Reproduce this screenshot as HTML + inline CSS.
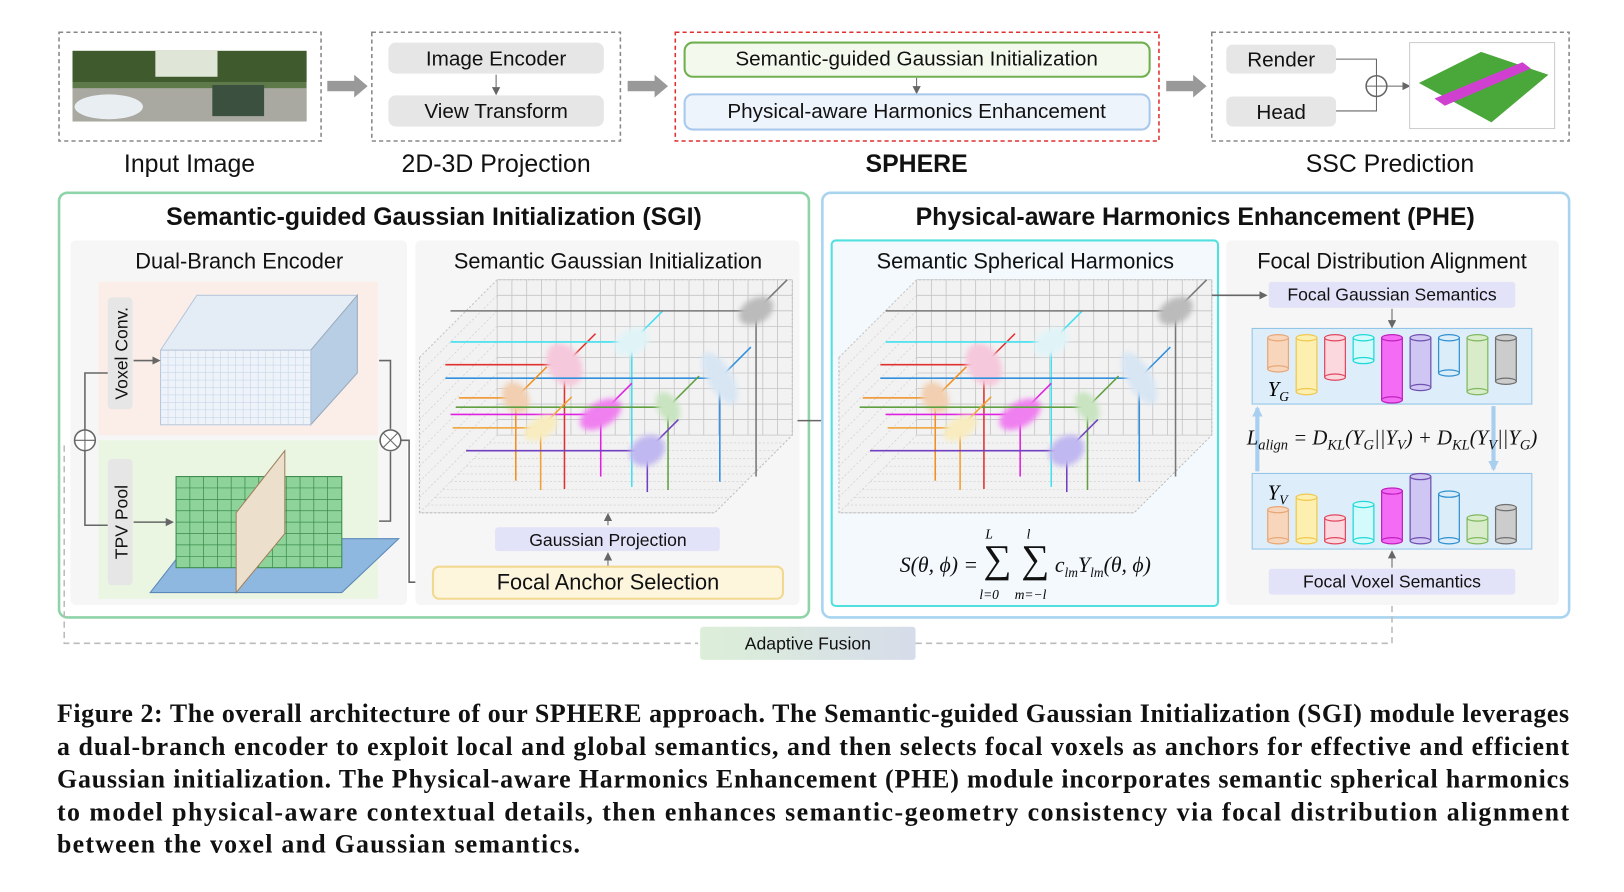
<!DOCTYPE html>
<html><head><meta charset="utf-8"><style>
html,body{margin:0;padding:0;background:#fff;width:1624px;height:892px;overflow:hidden}
svg{display:block}
.s{font-family:"Liberation Sans",sans-serif;fill:#111}
.cap{font-family:"Liberation Serif",serif;font-weight:bold;font-size:25px;fill:#111}
</style></head><body>
<svg id="fig" width="1624" height="892" viewBox="0 0 1568 861" xmlns="http://www.w3.org/2000/svg">
<defs>
<filter id="blur" x="-50%" y="-50%" width="200%" height="200%"><feGaussianBlur stdDeviation="2.5"/></filter>
<marker id="ah" markerUnits="userSpaceOnUse" markerWidth="8" markerHeight="8" refX="6" refY="4" orient="auto"><path d="M0,0 L8,4 L0,8 z" fill="#666"/></marker>
<marker id="ahb" markerUnits="userSpaceOnUse" markerWidth="12" markerHeight="10" refX="8" refY="5" orient="auto"><path d="M0,0 L10,5 L0,10 z" fill="#a8cef0"/></marker>
<linearGradient id="af" x1="0" x2="1"><stop offset="0" stop-color="#dcefd8"/><stop offset="1" stop-color="#d6dcea"/></linearGradient>
</defs>

<!-- TOP ROW -->
<g>
<rect x="57" y="31" width="253" height="105" fill="#fff" stroke="#888" stroke-dasharray="4,3" stroke-width="1.5"/>
<rect x="70" y="49" width="226" height="68" fill="#5f7a4a"/>
<rect x="70" y="49" width="226" height="30" fill="#3f5a2c"/>
<rect x="150" y="49" width="60" height="25" fill="#dfe6d8"/>
<rect x="70" y="85" width="226" height="32" fill="#a9a9a2"/>
<ellipse cx="105" cy="103" rx="33" ry="12" fill="#e8eef2"/>
<rect x="205" y="82" width="50" height="30" fill="#3c5040"/>
<text class="s" x="183" y="166" font-size="24" text-anchor="middle">Input Image</text>
</g>
<polygon points="316,78 342,78 342,72 355,83 342,94 342,88 316,88" fill="#999"/>
<g>
<rect x="359" y="31" width="240" height="105" fill="#fff" stroke="#888" stroke-dasharray="4,3" stroke-width="1.5"/>
<rect x="375" y="41" width="208" height="30" rx="7" fill="#e6e6e6"/>
<text class="s" x="479" y="63" font-size="20" text-anchor="middle">Image Encoder</text>
<line x1="479" y1="72" x2="479" y2="90" stroke="#666" marker-end="url(#ah)"/>
<rect x="375" y="92" width="208" height="30" rx="7" fill="#e6e6e6"/>
<text class="s" x="479" y="114" font-size="20" text-anchor="middle">View Transform</text>
<text class="s" x="479" y="166" font-size="24" text-anchor="middle">2D-3D Projection</text>
</g>
<polygon points="606,78 632,78 632,72 645,83 632,94 632,88 606,88" fill="#999"/>
<g>
<rect x="652" y="31" width="467" height="105" fill="#fff" stroke="#e03030" stroke-dasharray="4,3" stroke-width="1.5"/>
<rect x="661" y="41" width="449" height="33" rx="8" fill="#f4f9ee" stroke="#70b050" stroke-width="2"/>
<text class="s" x="885" y="63" font-size="20" text-anchor="middle">Semantic-guided Gaussian Initialization</text>
<line x1="885" y1="75" x2="885" y2="89" stroke="#666" marker-end="url(#ah)"/>
<rect x="661" y="91" width="449" height="34" rx="8" fill="#eef4fc" stroke="#a8c8ec" stroke-width="2"/>
<text class="s" x="885" y="114" font-size="20" text-anchor="middle">Physical-aware Harmonics Enhancement</text>
<text class="s" x="885" y="166" font-size="24" font-weight="bold" text-anchor="middle">SPHERE</text>
</g>
<polygon points="1126,78 1152,78 1152,72 1165,83 1152,94 1152,88 1126,88" fill="#999"/>
<g>
<rect x="1170" y="31" width="345" height="105" fill="#fff" stroke="#888" stroke-dasharray="4,3" stroke-width="1.5"/>
<rect x="1184" y="43" width="106" height="28" rx="6" fill="#e6e6e6"/>
<text class="s" x="1237" y="64" font-size="20" text-anchor="middle">Render</text>
<rect x="1184" y="93" width="106" height="29" rx="6" fill="#e6e6e6"/>
<text class="s" x="1237" y="115" font-size="20" text-anchor="middle">Head</text>
<path d="M1290,57 H1329 V73 M1290,107 H1329 V93" fill="none" stroke="#666"/>
<circle cx="1329" cy="83" r="10" fill="#fff" stroke="#666" stroke-width="1.5"/>
<path d="M1319,83 H1339 M1329,73 V93" stroke="#666"/>
<line x1="1339" y1="83" x2="1360" y2="83" stroke="#666" marker-end="url(#ah)"/>
<rect x="1361" y="41" width="140" height="83" fill="#fff" stroke="#ccc"/>
<polygon points="1370,80 1430,50 1495,72 1440,118" fill="#4aa83a"/>
<polygon points="1385,95 1470,60 1478,66 1395,102" fill="#d040d0"/>
<text class="s" x="1342" y="166" font-size="24" text-anchor="middle">SSC Prediction</text>
</g>

<!-- SGI -->
<g>
<rect x="57" y="186" width="724" height="410" rx="8" fill="#fff" stroke="#8fd4a8" stroke-width="2.5"/>
<text class="s" x="419" y="217" font-size="24" font-weight="bold" text-anchor="middle">Semantic-guided Gaussian Initialization (SGI)</text>
<rect x="68" y="232" width="325" height="352" rx="5" fill="#f6f6f6"/>
<text class="s" x="231" y="259" font-size="21" text-anchor="middle">Dual-Branch Encoder</text>
<rect x="95" y="272" width="270" height="148" fill="#fbeee8"/>
<rect x="95" y="425" width="270" height="153" fill="#eaf6e2"/>
<rect x="104" y="287" width="24" height="108" rx="4" fill="#e6e6e6"/>
<text class="s" transform="translate(123,341) rotate(-90)" font-size="17" text-anchor="middle">Voxel Conv.</text>
<rect x="104" y="443" width="24" height="122" rx="4" fill="#e6e6e6"/>
<text class="s" transform="translate(123,504) rotate(-90)" font-size="17" text-anchor="middle">TPV Pool</text>
<g id="cube"></g>
<g id="tpv"></g>
<path d="M104,360 H82 V415 M104,507 H82 V435" fill="none" stroke="#666" stroke-width="1.5"/>
<circle cx="82" cy="425" r="10" fill="#fff" stroke="#666" stroke-width="1.5"/><path d="M72,425 H92 M82,415 V435" stroke="#666"/>
<line x1="129" y1="348" x2="153" y2="348" stroke="#666" stroke-width="1.5" marker-end="url(#ah)"/>
<line x1="129" y1="504" x2="166" y2="504" stroke="#666" stroke-width="1.5" marker-end="url(#ah)"/>
<path d="M366,348 H377 V414 M366,503 H377 V436" fill="none" stroke="#666" stroke-width="1.5"/>
<circle cx="377" cy="425" r="10" fill="#fff" stroke="#666" stroke-width="1.5"/><path d="M370,418 L384,432 M384,418 L370,432" stroke="#666"/>
<path d="M387,425 H395 V562 H416" fill="none" stroke="#666" stroke-width="1.5" marker-end="url(#ah)"/>
<rect x="401" y="232" width="371" height="352" rx="5" fill="#f6f6f6"/>
<text class="s" x="587" y="259" font-size="21" text-anchor="middle">Semantic Gaussian Initialization</text>
<g id="grid1"></g>
<line x1="587" y1="507" x2="587" y2="497" stroke="#666" marker-end="url(#ah)"/>
<rect x="478" y="509" width="217" height="23" rx="3" fill="#e2e2f8"/>
<text class="s" x="587" y="527" font-size="17" text-anchor="middle">Gaussian Projection</text>
<line x1="587" y1="546" x2="587" y2="535" stroke="#666" marker-end="url(#ah)"/>
<rect x="418" y="547" width="338" height="31" rx="6" fill="#fdf6dd" stroke="#f2d890" stroke-width="2"/>
<text class="s" x="587" y="569" font-size="21" text-anchor="middle">Focal Anchor Selection</text>
</g>
<line x1="770" y1="406" x2="808" y2="406" stroke="#666" stroke-width="1.5" marker-end="url(#ah)"/>

<!-- PHE -->
<g>
<rect x="794" y="186" width="721" height="410" rx="8" fill="#fff" stroke="#a8d4f0" stroke-width="2.5"/>
<text class="s" x="1154" y="217" font-size="24" font-weight="bold" text-anchor="middle">Physical-aware Harmonics Enhancement (PHE)</text>
<rect x="803" y="232" width="373" height="353" rx="4" fill="#f3f9fc" stroke="#50e0e0" stroke-width="2"/>
<text class="s" x="990" y="259" font-size="21" text-anchor="middle">Semantic Spherical Harmonics</text>
<g id="grid2"></g>
<text x="990" y="552" font-family="Liberation Serif,serif" font-style="italic" font-size="21" text-anchor="middle" fill="#111">S(θ, ϕ) = <tspan font-style="normal" font-size="38">∑ ∑</tspan> c<tspan font-size="13" dy="5">lm</tspan><tspan dy="-5">Y</tspan><tspan font-size="13" dy="5">lm</tspan><tspan dy="-5">(θ, ϕ)</tspan></text>
<text x="955" y="578" font-family="Liberation Serif,serif" font-style="italic" font-size="13" text-anchor="middle">l=0</text>
<text x="955" y="520" font-family="Liberation Serif,serif" font-style="italic" font-size="13" text-anchor="middle">L</text>
<text x="995" y="578" font-family="Liberation Serif,serif" font-style="italic" font-size="13" text-anchor="middle">m=−l</text>
<text x="993" y="520" font-family="Liberation Serif,serif" font-style="italic" font-size="13" text-anchor="middle">l</text>
<rect x="1184" y="232" width="321" height="352" rx="5" fill="#f6f6f6"/>
<text class="s" x="1344" y="259" font-size="21" text-anchor="middle">Focal Distribution Alignment</text>
<line x1="1170" y1="285" x2="1222" y2="285" stroke="#666" stroke-width="1.5" marker-end="url(#ah)"/>
<rect x="1225" y="272" width="238" height="25" rx="3" fill="#e2e2f8"/>
<text class="s" x="1344" y="290" font-size="17" text-anchor="middle">Focal Gaussian Semantics</text>
<line x1="1344" y1="298" x2="1344" y2="315" stroke="#666" marker-end="url(#ah)"/>
<rect x="1209" y="317" width="270" height="73" fill="#ddeefa" stroke="#90c4e8"/>
<text x="1224" y="382" font-family="Liberation Serif,serif" font-style="italic" font-size="20">Y<tspan font-size="13" dy="5">G</tspan></text>
<g id="cylG"></g>
<line x1="1214" y1="455" x2="1214" y2="394" stroke="#a8cef0" stroke-width="4" marker-end="url(#ahb)"/>
<line x1="1442" y1="392" x2="1442" y2="453" stroke="#a8cef0" stroke-width="4" marker-end="url(#ahb)"/>
<text x="1344" y="429" font-family="Liberation Serif,serif" font-style="italic" font-size="20" text-anchor="middle" fill="#111">L<tspan font-size="14" dy="5">align</tspan><tspan dy="-5"> = D</tspan><tspan font-size="14" dy="5">KL</tspan><tspan dy="-5">(Y</tspan><tspan font-size="14" dy="5">G</tspan><tspan dy="-5">||Y</tspan><tspan font-size="14" dy="5">V</tspan><tspan dy="-5">) + D</tspan><tspan font-size="14" dy="5">KL</tspan><tspan dy="-5">(Y</tspan><tspan font-size="14" dy="5">V</tspan><tspan dy="-5">||Y</tspan><tspan font-size="14" dy="5">G</tspan><tspan dy="-5">)</tspan></text>
<rect x="1209" y="457" width="270" height="73" fill="#ddeefa" stroke="#90c4e8"/>
<text x="1224" y="482" font-family="Liberation Serif,serif" font-style="italic" font-size="20">Y<tspan font-size="13" dy="5">V</tspan></text>
<g id="cylV"></g>
<line x1="1344" y1="548" x2="1344" y2="533" stroke="#666" marker-end="url(#ah)"/>
<rect x="1225" y="549" width="238" height="25" rx="3" fill="#e2e2f8"/>
<text class="s" x="1344" y="567" font-size="17" text-anchor="middle">Focal Voxel Semantics</text>
</g>

<!-- Adaptive fusion -->
<g>
<path d="M62,430 V621 H674" fill="none" stroke="#bbb" stroke-width="1.5" stroke-dasharray="6,4"/>
<path d="M884,621 H1344 V582" fill="none" stroke="#bbb" stroke-width="1.5" stroke-dasharray="6,4"/>
<rect x="676" y="605" width="208" height="32" rx="3" fill="url(#af)"/>
<text class="s" x="780" y="627" font-size="17" text-anchor="middle">Adaptive Fusion</text>
</g>

<!-- Caption -->
<g>
<text class="cap" x="55" y="697" textLength="1460" lengthAdjust="spacing">Figure 2: The overall architecture of our SPHERE approach. The Semantic-guided Gaussian Initialization (SGI) module leverages</text>
<text class="cap" x="55" y="729" textLength="1460" lengthAdjust="spacing">a dual-branch encoder to exploit local and global semantics, and then selects focal voxels as anchors for effective and efficient</text>
<text class="cap" x="55" y="760" textLength="1460" lengthAdjust="spacing">Gaussian initialization. The Physical-aware Harmonics Enhancement (PHE) module incorporates semantic spherical harmonics</text>
<text class="cap" x="55" y="792" textLength="1460" lengthAdjust="spacing">to model physical-aware contextual details, then enhances semantic-geometry consistency via focal distribution alignment</text>
<text class="cap" x="55" y="823" textLength="505" lengthAdjust="spacing">between the voxel and Gaussian semantics.</text>
</g>
</svg>
<script>
const NS="http://www.w3.org/2000/svg";
const classColorsFill=["#f8d6bc","#fcefb0","#fbd8de","#d4fbfb","#f46cf4","#cfc6f4","#dcedfa","#d8ecca","#cccccc"];
const classColorsLine=["#e8a878","#f0c850","#e04860","#20d8d8","#c020c0","#7050b0","#3090d0","#80b860","#707070"];
const gaussianHeights=[30,52,38,22,60,48,34,52,42];
const voxelHeights=[30,42,22,35,48,62,45,22,32];
function mk(tag,attrs,parent){const e=document.createElementNS(NS,tag);for(const k in attrs)e.setAttribute(k,attrs[k]);parent.appendChild(e);return e;}
const cylX=i=>1234+i*27.5;
const cylH=v=>v*1.0;
function cylinder(g,cx,top,bot,f,l,name){
  const c=mk('g',{},g);
  
  
  mk('rect',{x:cx-10,y:top,width:20,height:bot-top,fill:f,stroke:l,'stroke-width':1.2},c);
  mk('ellipse',{cx:cx,cy:top,rx:10,ry:3,fill:f,stroke:l,'stroke-width':1.2},c);
  mk('ellipse',{cx:cx,cy:bot,rx:10,ry:3,fill:f,stroke:l,'stroke-width':1.2},c);
}
const gG=document.getElementById('cylG'),gV=document.getElementById('cylV');
gaussianHeights.forEach((v,i)=>cylinder(gG,cylX(i),326,326+cylH(v),classColorsFill[i],classColorsLine[i],'gaussian-bar-'+i));
voxelHeights.forEach((v,i)=>cylinder(gV,cylX(i),522-cylH(v),522,classColorsFill[i],classColorsLine[i],'voxel-bar-'+i));

const cube=document.getElementById('cube');
mk('polygon',{points:"155,338 190,285 345,285 310,338",fill:"#e4ecf6",stroke:"#b8c8dc"},cube);
mk('polygon',{points:"300,338 345,285 345,360 300,410",fill:"#b8cee4",stroke:"#9ab"},cube);
mk('rect',{x:155,y:338,width:145,height:72,fill:"#eef3fa",stroke:"#b8c8dc"},cube);
for(let i=1;i<20;i++){mk('line',{x1:155+i*7.25,y1:338,x2:155+i*7.25,y2:410,stroke:"#c8d6e8","stroke-width":0.6},cube);}
for(let i=1;i<10;i++){mk('line',{x1:155,y1:338+i*7.2,x2:300,y2:338+i*7.2,stroke:"#c8d6e8","stroke-width":0.6},cube);}
const tpv=document.getElementById('tpv');
mk('polygon',{points:"170,540 200,520 385,520 330,572 145,572",fill:"#8fb8e0",stroke:"#5a88b8"},tpv);
mk('rect',{x:170,y:460,width:160,height:88,fill:"#8ed49a",stroke:"#3a8a4a"},tpv);
for(let i=1;i<12;i++)mk('line',{x1:170+i*13.3,y1:460,x2:170+i*13.3,y2:548,stroke:"#3a8a4a","stroke-width":0.7},tpv);
for(let i=1;i<8;i++)mk('line',{x1:170,y1:460+i*11,x2:330,y2:460+i*11,stroke:"#3a8a4a","stroke-width":0.7},tpv);
mk('polygon',{points:"228,495 275,435 275,515 228,572",fill:"#ece0cc",stroke:"#a08060"},tpv);

function grid(g,x0,y0,blobs){
  mk('polygon',{points:`${x0},${y0+75} ${x0+75},${y0} ${x0+360},${y0} ${x0+360},${y0+150} ${x0+285},${y0+225} ${x0},${y0+225}`,fill:"#f2f2f2",stroke:"#bbb","stroke-dasharray":"2,2"},g);
  for(let i=0;i<=20;i++)mk('line',{x1:x0+75+i*14.25,y1:y0,x2:x0+75+i*14.25,y2:y0+150,stroke:"#c4c4c4","stroke-width":0.8},g);
  for(let i=0;i<=10;i++)mk('line',{x1:x0+75,y1:y0+i*15,x2:x0+360,y2:y0+i*15,stroke:"#c4c4c4","stroke-width":0.8},g);
  for(let i=0;i<=10;i++)mk('line',{x1:x0,y1:y0+75+i*15,x2:x0+75,y2:y0+i*15,stroke:"#ccc","stroke-width":0.6,"stroke-dasharray":"2,2"},g);
  for(let i=0;i<=10;i++)mk('line',{x1:x0+i*7.5,y1:y0+225-i*7.5,x2:x0+285+i*7.5,y2:y0+225-i*7.5,stroke:"#ccc","stroke-width":0.6,"stroke-dasharray":"2,2"},g);
  blobs.forEach(b=>{
    mk('line',{x1:b[0],y1:b[1],x2:x0+20+b[0]%30,y2:b[1],stroke:b[5],"stroke-width":1.5},g);
    mk('line',{x1:b[0],y1:b[1],x2:b[0],y2:y0+190+b[1]%20,stroke:b[5],"stroke-width":1.5},g);
    mk('line',{x1:b[0],y1:b[1],x2:b[0]+30,y2:b[1]-30,stroke:b[5],"stroke-width":1.5},g);
    mk('ellipse',{cx:b[0],cy:b[1],rx:b[2],ry:b[3],fill:b[4],filter:"url(#blur)",transform:`rotate(-30 ${b[0]} ${b[1]})`},g);
  });
}
const blobs=[[545,352,16,22,"#f6c8dc","#e03030"],[610,330,18,12,"#e0f4f8","#40e0f0"],[730,300,18,12,"#bbb","#777"],[695,365,12,28,"#d8e6f4","#3090e0"],[498,384,12,16,"#f2cfb0","#f09020"],[580,400,22,12,"#f080f0","#e020e0"],[645,393,10,16,"#c8e4c0","#60a040"],[522,413,18,10,"#f8ecc0","#f0a030"],[625,435,18,14,"#c0b8f0","#7040c0"]];
grid(document.getElementById('grid1'),405,270,blobs);
grid(document.getElementById('grid2'),810,270,blobs.map(b=>[b[0]+405,b[1],b[2],b[3],b[4],b[5]]));
</script>
</body></html>
